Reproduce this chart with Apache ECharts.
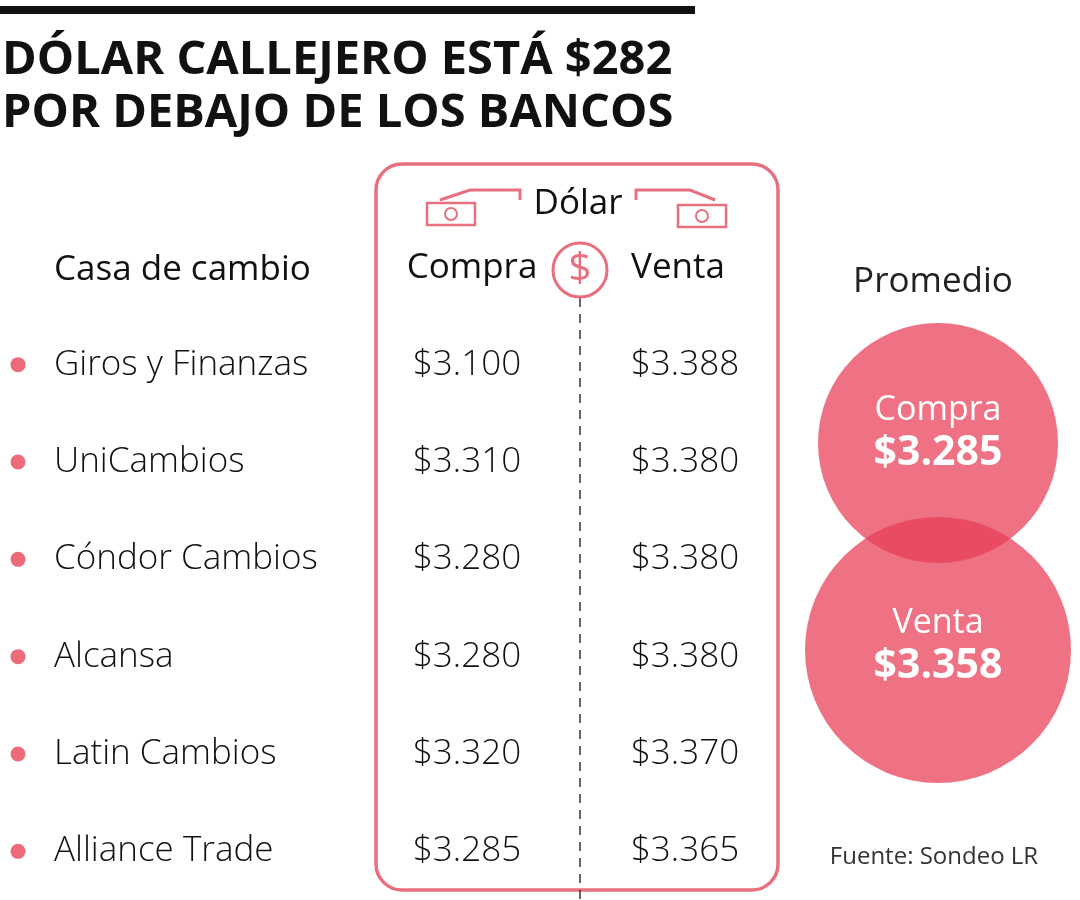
<!DOCTYPE html><html><head><meta charset="utf-8"><script src="https://cdn.jsdelivr.net/npm/echarts@6/dist/echarts.min.js"></script>
<style>html,body{margin:0;background:#fff}#c{width:1080px;height:900px}</style></head><body><div id="c"></div><script>
const casas=['Giros y Finanzas','UniCambios','Cóndor Cambios','Alcansa','Latin Cambios','Alliance Trade'];
const compra=[3100,3310,3280,3280,3320,3285];
const venta=[3388,3380,3380,3380,3370,3365];
const promedio=[{name:'Compra',value:3285},{name:'Venta',value:3358}];
const fmt=v=>'$'+(v/1000).toFixed(3);
const F='"Open Sans", Lato, sans-serif';
const pink='#e8707e';
const ch=echarts.init(document.getElementById('c'));
function txtSeries(x,arr,align,color){return {type:'scatter',xAxisIndex:0,yAxisIndex:0,symbolSize:0,silent:true,itemStyle:{opacity:1},
 data:arr.map((v,i)=>[x,casas[i],v]),
 label:{show:true,position:'inside',align:align,color:color,fontFamily:F,fontSize:35,fontWeight:300,
 formatter:p=>typeof p.data[2]==='number'?fmt(p.data[2]):p.data[2]}};}
ch.setOption({animation:false,
grid:[{left:0,right:0,top:316,bottom:-5},{left:0,right:0,top:0,bottom:0}],
xAxis:[{type:'value',min:0,max:1080,show:false,gridIndex:0},{type:'value',min:0,max:1080,show:false,gridIndex:1}],
yAxis:[{type:'category',data:casas,inverse:true,show:false,gridIndex:0},{type:'value',min:0,max:900,inverse:true,show:false,gridIndex:1}],
series:[
{type:'scatter',symbolSize:15,itemStyle:{color:'#ec6a7a',opacity:1},data:casas.map(c=>[18,c])},
txtSeries(54,casas,'left','#111'),
txtSeries(467,compra,'center','#111'),
txtSeries(685,venta,'center','#111'),
{type:'scatter',xAxisIndex:1,yAxisIndex:1,
 data:[{value:[938,443],symbolSize:240,d:promedio[0],label:{offset:[0,-10]}},{value:[938,650],symbolSize:266,d:promedio[1],label:{offset:[0,-4]}}],
 itemStyle:{color:'rgba(232,60,85,0.72)',opacity:1},
 label:{show:true,position:'inside',formatter:p=>'{a|'+p.data.d.name+'}\n{b|'+fmt(p.data.d.value)+'}',
  rich:{a:{color:'#fff',fontSize:34,fontFamily:F,lineHeight:40},b:{color:'#fff',fontSize:41,fontWeight:'bold',fontFamily:F,lineHeight:46}}}}
],
graphic:[
{type:'rect',shape:{x:0,y:6,width:695,height:8},style:{fill:'#111'}},
{type:'text',left:2,top:34,style:{text:'DÓLAR CALLEJERO ESTÁ $282\nPOR DEBAJO DE LOS BANCOS',font:'bold 47px "Open Sans", sans-serif',fill:'#111',lineHeight:53}},
{type:'rect',shape:{x:376,y:164,width:402,height:726,r:26},style:{fill:'none',stroke:pink,lineWidth:3.5}},
{type:'line',shape:{x1:580,y1:298,x2:580,y2:900},style:{stroke:'#333',lineWidth:1.5,lineDash:[9,7]}},
{type:'circle',shape:{cx:580,cy:270,r:27},style:{fill:'#fff',stroke:pink,lineWidth:3}},
{type:'text',x:580,y:270,style:{text:'$',font:'40px "Open Sans"',fill:pink,align:'center',verticalAlign:'middle'}},
{type:'text',x:54,y:270,style:{text:'Casa de cambio',font:'35px "Open Sans"',fill:'#111',verticalAlign:'middle'}},
{type:'text',x:472,y:268,style:{text:'Compra',font:'35px "Open Sans"',fill:'#111',align:'center',verticalAlign:'middle'}},
{type:'text',x:678,y:268,style:{text:'Venta',font:'35px "Open Sans"',fill:'#111',align:'center',verticalAlign:'middle'}},
{type:'text',x:578,y:204,style:{text:'Dólar',font:'35px "Open Sans"',fill:'#111',align:'center',verticalAlign:'middle'}},
{type:'rect',shape:{x:427,y:203,width:48,height:22},style:{fill:'#fff',stroke:pink,lineWidth:2.5}},
{type:'circle',shape:{cx:451,cy:214,r:6},style:{fill:'none',stroke:pink,lineWidth:2}},
{type:'polyline',shape:{points:[[440,200],[470,190],[520,190],[520,200]]},style:{fill:'none',stroke:pink,lineWidth:3}},
{type:'rect',shape:{x:678,y:205,width:48,height:22},style:{fill:'#fff',stroke:pink,lineWidth:2.5}},
{type:'circle',shape:{cx:702,cy:216,r:6},style:{fill:'none',stroke:pink,lineWidth:2}},
{type:'polyline',shape:{points:[[636,200],[636,190],[690,190],[715,200]]},style:{fill:'none',stroke:pink,lineWidth:3}},
{type:'text',x:933,y:282,style:{text:'Promedio',font:'35px "Open Sans"',fill:'#222',align:'center',verticalAlign:'middle'}},
{type:'text',x:934,y:857,style:{text:'Fuente: Sondeo LR',font:'24px "Open Sans"',fill:'#333',align:'center',verticalAlign:'middle'}}
]});
</script></body></html>
